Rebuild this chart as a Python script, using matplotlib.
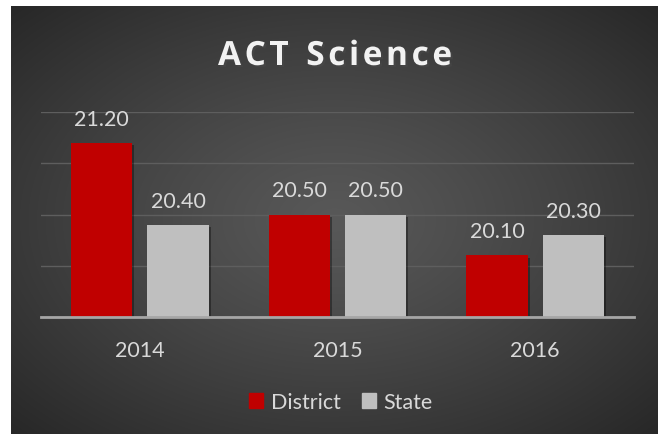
import numpy as np
import matplotlib.pyplot as plt
import matplotlib.patheffects as pe
from matplotlib.patches import Patch

years = ["2014", "2015", "2016"]
district = [21.20, 20.50, 20.10]
state = [20.40, 20.50, 20.30]

red = "#C00000"
grey = "#BFBFBF"
txt = "#D9D9D9"

plt.rcParams['font.family'] = ['Lato', 'DejaVu Sans']

fig = plt.figure(figsize=(6.58, 4.35), dpi=100)
fig.patch.set_facecolor("white")

# dark radial-gradient panel behind everything
bg = fig.add_axes([11 / 658, 0, 1 - 11 / 658, 428 / 435])
bg.set_axis_off()
yy, xx = np.mgrid[-1:1:300j, -1:1:450j]
r = np.sqrt(xx ** 2 + yy ** 2) / np.sqrt(2)
shade = 0.345 - 0.19 * r ** 1.2
bg.imshow(np.dstack([shade] * 3), aspect="auto", extent=[0, 1, 0, 1], interpolation="bilinear")
bg.set_xlim(0, 1)
bg.set_ylim(0, 1)

ax = fig.add_axes([41 / 658, 117 / 435, 593 / 658, 205 / 435])
ax.patch.set_alpha(0)

x = np.arange(len(years))
w = 0.31
off = 0.193
base = 19.5
shadow = [pe.SimplePatchShadow(offset=(1.5, -1.5), shadow_rgbFace="black", alpha=0.35), pe.Normal()]
b1 = ax.bar(x - off, np.array(district) - base, w, bottom=base, color=red, zorder=3)
b2 = ax.bar(x + off, np.array(state) - base, w, bottom=base, color=grey, zorder=3)
for b in list(b1) + list(b2):
    b.set_path_effects(shadow)

for xs, vals in [(x - off, district), (x + off, state)]:
    for xi, v in zip(xs, vals):
        ax.annotate(f"{v:.2f}", (xi, v), xytext=(0, 13), textcoords="offset points",
                    ha="center", va="baseline", color=txt, fontsize=15.5)

ax.set_xlim(-0.5, 2.5)
ax.set_ylim(19.5, 21.5)
ax.set_yticks([19.5, 20.0, 20.5, 21.0, 21.5])
ax.yaxis.grid(True, color="#5E5E5E", linewidth=1, zorder=0)
ax.tick_params(axis="y", left=False, labelleft=False)
ax.tick_params(axis="x", bottom=False, colors=txt, labelsize=15.5, pad=13)
ax.set_xticks(x)
ax.set_xticklabels(years)
for s in ["top", "right", "left"]:
    ax.spines[s].set_visible(False)
ax.spines["bottom"].set_color("#A6A6A6")
ax.spines["bottom"].set_linewidth(2)
ax.spines["bottom"].set_zorder(4)

# title with letter spacing, placed glyph by glyph
title = "ACT Science"
renderer = fig.canvas.get_renderer()
tkw = dict(color="#F2F2F2", fontsize=24, fontweight="bold", va="baseline", ha="left",
           family=["Open Sans", "DejaVu Sans"],
           path_effects=[pe.withSimplePatchShadow(offset=(1.5, -1.5), alpha=0.6)])
widths = []
for ch in title:
    t = fig.text(0, 0, ch if ch != " " else "i", **tkw)
    widths.append(t.get_window_extent(renderer).width)
    t.remove()
target = 234.0
gap = (target - sum(widths)) / (len(title) - 1)
xpos = 218.0
for ch, cw in zip(title, widths):
    if ch != " ":
        fig.text(xpos / 658, 1 - 66 / 435, ch, **tkw)
    xpos += cw + gap

handles = [Patch(color=red, label="District"), Patch(color=grey, label="State")]
fig.legend(handles=handles, loc="center", bbox_to_anchor=(341 / 658, 1 - 403 / 435), ncol=2,
           frameon=False, fontsize=15.5, labelcolor=txt, handlelength=0.65, handleheight=0.65,
           handletextpad=0.35, columnspacing=1.0)

fig.savefig("out.png", dpi=100, facecolor="white")
